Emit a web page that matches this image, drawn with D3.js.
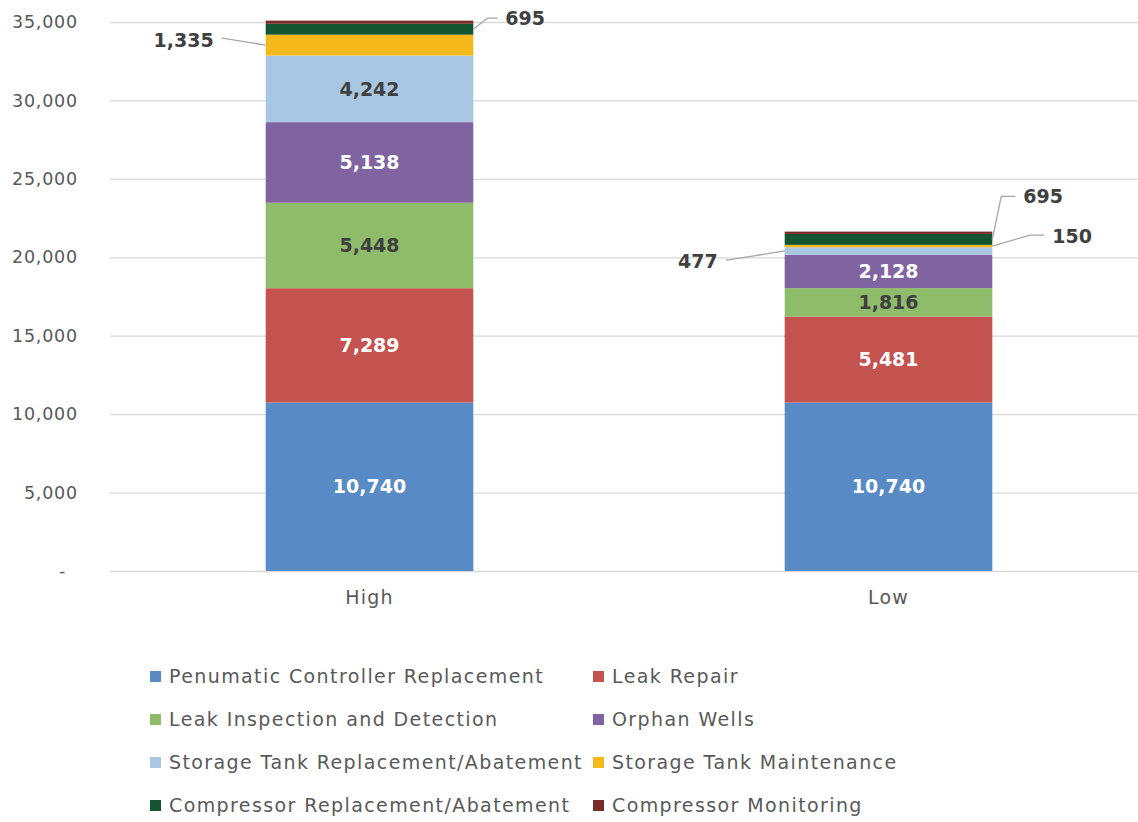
<!DOCTYPE html>
<html>
<head>
<meta charset="utf-8">
<script src="https://cdn.jsdelivr.net/npm/d3@7"></script>
<style>
  body { margin: 0; background: #fff; }
  svg { display: block; font-family: "DejaVu Sans", sans-serif; }
</style>
</head>
<body>
<svg id="chart" width="1138" height="822"></svg>
<script>
// data
var scenarios = ['High', 'Low'];
var categories = [
  'Penumatic Controller Replacement', 'Leak Repair',
  'Leak Inspection and Detection', 'Orphan Wells',
  'Storage Tank Replacement/Abatement', 'Storage Tank Maintenance',
  'Compressor Replacement/Abatement', 'Compressor Monitoring'
];
var highValues = [10740, 7289, 5448, 5138, 4242, 1335, 695, 200];
var lowValues = [10740, 5481, 1816, 2128, 477, 150, 695, 150];
var yTicks = [0, 5000, 10000, 15000, 20000, 25000, 30000, 35000];

var colors = ['#588bc6', '#c4524f', '#8fbc6b', '#8064a2', '#a9c6e3', '#f6b91b', '#125530', '#7b2a2a'];
var labelFill = ['#fff', '#fff', '#404040', '#fff', '#404040', null, null, null];

// callouts for the thin segments: [scenario, category index, side, label dx, label dy, elbow dx, elbow dy]
var callouts = [
  ['High', 5, 'left', -52, -5, -43, -7],
  ['High', 6, 'right', 32, -11, 14, -11],
  ['Low', 4, 'left', -67, 10, -56, 9],
  ['Low', 5, 'right', 60, -10, 38, -11],
  ['Low', 6, 'right', 31, -43, 9, -43]
];

var svg = d3.select('#chart');
var margin = {left: 110, right: -10, top: 22, bottom: 251};
var W = 1138, H = 822;

var x = d3.scaleBand()
  .domain(scenarios)
  .range([margin.left, W - margin.right])
  .paddingInner(0.6)
  .paddingOuter(0.3);

var y = d3.scaleLinear()
  .domain([0, 35000])
  .range([H - margin.bottom, margin.top]);

// gridlines
svg.append('g')
  .selectAll('line')
  .data(yTicks)
  .join('line')
  .attr('x1', margin.left).attr('x2', W)
  .attr('y1', d => y(d) + 0.5).attr('y2', d => y(d) + 0.5)
  .attr('stroke', '#d9d9d9')
  .attr('stroke-width', 1.3);

// y axis
var yAxis = svg.append('g')
  .attr('transform', 'translate(' + (margin.left - 29) + ',0)')
  .call(d3.axisLeft(y).tickValues(yTicks).tickSize(0)
    .tickFormat(d => d === 0 ? '-' : d3.format(',')(d)));
yAxis.select('.domain').remove();
yAxis.selectAll('text')
  .attr('font-size', 17.5).attr('fill', '#595959')
  .attr('font-family', '"DejaVu Sans", sans-serif')
  .attr('letter-spacing', 0.8);
yAxis.selectAll('.tick').filter(d => d === 0).select('text').attr('dx', -12);

// x axis
var xAxis = svg.append('g')
  .attr('transform', 'translate(0,' + y(0) + ')')
  .call(d3.axisBottom(x).tickSize(0).tickPadding(20));
xAxis.select('.domain').remove();
xAxis.selectAll('text')
  .attr('font-size', 19).attr('fill', '#595959')
  .attr('letter-spacing', 1.2)
  .attr('font-family', '"DejaVu Sans", sans-serif');

// stack
var rows = scenarios.map(function(s, i) {
  var r = {scenario: s};
  var vals = i === 0 ? highValues : lowValues;
  categories.forEach(function(c, j) { r[c] = vals[j]; });
  return r;
});
var series = d3.stack().keys(categories)(rows);

var layers = svg.append('g')
  .selectAll('g')
  .data(series)
  .join('g')
  .attr('fill', (d, i) => colors[i]);

layers.selectAll('rect')
  .data(d => d)
  .join('rect')
  .attr('x', d => x(d.data.scenario))
  .attr('width', x.bandwidth())
  .attr('y', d => y(d[1]))
  .attr('height', d => y(d[0]) - y(d[1]));

// inside labels
series.forEach(function(s, i) {
  if (!labelFill[i]) return;
  s.forEach(function(d) {
    var v = d[1] - d[0];
    if (d.data.scenario === 'Low' && i === 4) return;
    svg.append('text')
      .attr('x', x(d.data.scenario) + x.bandwidth() / 2)
      .attr('y', y((d[0] + d[1]) / 2))
      .attr('dy', '0.35em')
      .attr('text-anchor', 'middle')
      .attr('font-size', 19)
      .attr('font-weight', 'bold')
      .attr('fill', labelFill[i])
      .text(d3.format(',')(v));
  });
});

// callout labels with leader lines
callouts.forEach(function(c) {
  var si = scenarios.indexOf(c[0]);
  var d = series[c[1]][si];
  var ax = c[2] === 'left' ? x(c[0]) : x(c[0]) + x.bandwidth();
  var ay = y((d[0] + d[1]) / 2);
  var ex = ax + c[5], ey = ay + c[6];
  var lx = ax + c[3], ly = ay + c[4];
  var endX = c[2] === 'left' ? lx + 8 : lx - 8;
  svg.append('polyline')
    .attr('points', [[ax, ay], [ex, ey], [endX, ey]].map(p => p.join(',')).join(' '))
    .attr('fill', 'none')
    .attr('stroke', '#a6a6a6')
    .attr('stroke-width', 1.3);
  svg.append('text')
    .attr('x', lx)
    .attr('y', ly)
    .attr('dy', '0.35em')
    .attr('text-anchor', c[2] === 'left' ? 'end' : 'start')
    .attr('font-size', 19)
    .attr('font-weight', 'bold')
    .attr('fill', '#404040')
    .text(d3.format(',')(d[1] - d[0]));
});

// legend
var legend = svg.append('g')
  .selectAll('g')
  .data(categories)
  .join('g')
  .attr('transform', (d, i) => 'translate(' + (i % 2 === 0 ? 150 : 593) + ',' + (676 + Math.floor(i / 2) * 43) + ')');
legend.append('rect')
  .attr('x', 0).attr('y', -5)
  .attr('width', 11).attr('height', 11)
  .attr('fill', (d, i) => colors[i]);
legend.append('text')
  .attr('x', 19).attr('y', 0)
  .attr('dy', '0.35em')
  .attr('font-size', 19)
  .attr('letter-spacing', 1.4)
  .attr('fill', '#595959')
  .text(d => d);
</script>
</body>
</html>
